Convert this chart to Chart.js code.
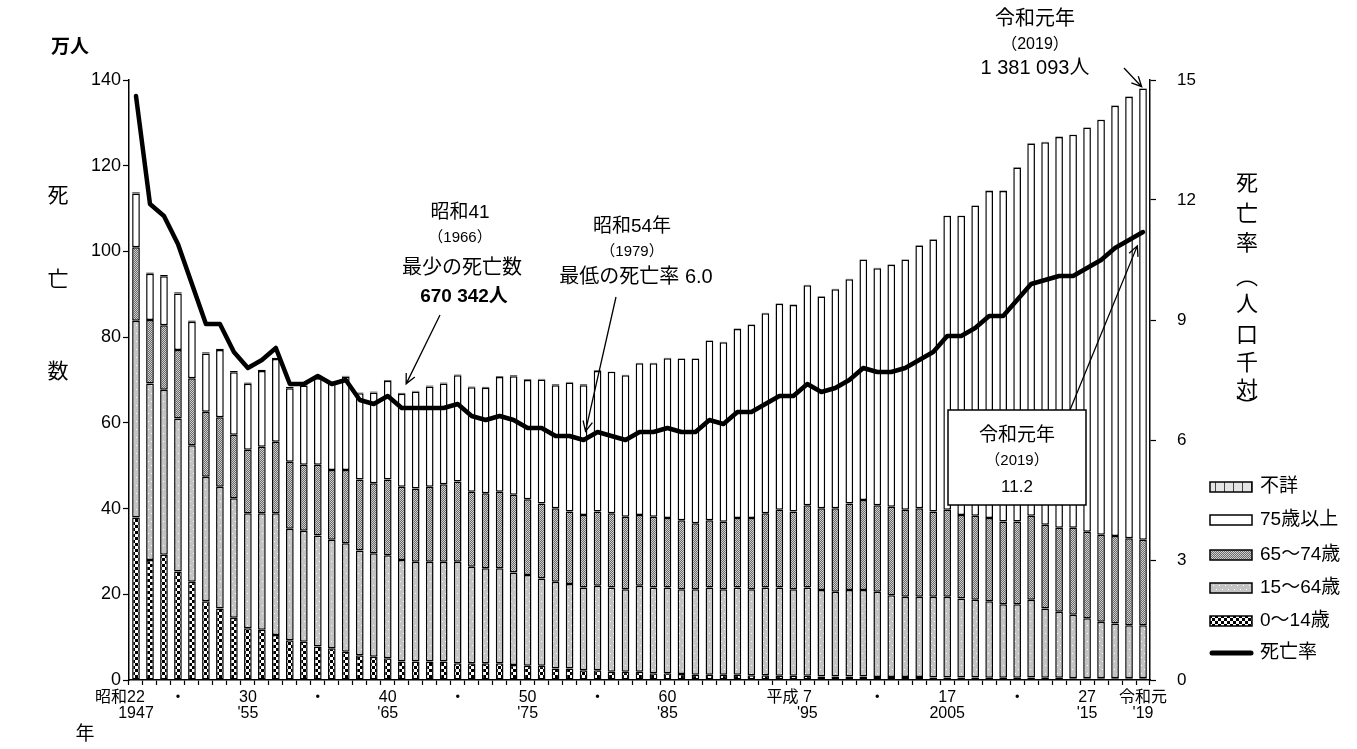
<!DOCTYPE html>
<html lang="ja">
<head>
<meta charset="utf-8">
<title>死亡数・死亡率の年次推移</title>
<script src="https://cdn.jsdelivr.net/npm/chart.js@4"></script>
<style>
  html, body { margin: 0; padding: 0; background: #fff; }
  #wrap { width: 1357px; height: 749px; position: relative; }
</style>
</head>
<body>
<div id="wrap"><canvas id="chart"></canvas></div>
<script>
// 年次（昭和22年〜令和元年）
const years = [
  1947, 1948, 1949, 1950, 1951, 1952, 1953, 1954, 1955, 1956,
  1957, 1958, 1959, 1960, 1961, 1962, 1963, 1964, 1965, 1966,
  1967, 1968, 1969, 1970, 1971, 1972, 1973, 1974, 1975, 1976,
  1977, 1978, 1979, 1980, 1981, 1982, 1983, 1984, 1985, 1986,
  1987, 1988, 1989, 1990, 1991, 1992, 1993, 1994, 1995, 1996,
  1997, 1998, 1999, 2000, 2001, 2002, 2003, 2004, 2005, 2006,
  2007, 2008, 2009, 2010, 2011, 2012, 2013, 2014, 2015, 2016,
  2017, 2018, 2019
];

// 死亡数（万人）年齢階級別
const age0to14 = [
  37.9, 28.0, 29.2, 25.3, 22.9, 18.4, 16.7, 14.5, 12.1, 11.7,
  10.5, 9.3, 8.9, 7.8, 7.4, 6.6, 5.8, 5.4, 5.1, 4.3,
  4.3, 4.3, 4.3, 3.9, 3.9, 3.9, 3.9, 3.5, 3.3, 3.3,
  2.7, 2.7, 2.3, 2.3, 1.9, 1.9, 1.9, 1.6, 1.6, 1.4,
  1.2, 1.2, 1.2, 1.2, 1.1, 1.1, 1.0, 1.0, 1.0, 0.8,
  0.8, 0.8, 0.8, 0.7, 0.7, 0.7, 0.7, 0.6, 0.6, 0.6,
  0.6, 0.5, 0.5, 0.5, 0.6, 0.5, 0.5, 0.4, 0.4, 0.4,
  0.4, 0.4, 0.4
];
const age15to64 = [
  45.9, 41.2, 38.5, 35.7, 31.9, 29.0, 28.4, 27.9, 26.8, 27.2,
  28.4, 26.0, 25.9, 25.9, 25.3, 25.3, 24.4, 24.2, 24.0, 23.7,
  23.3, 23.3, 23.3, 23.7, 22.5, 22.2, 22.2, 21.6, 21.2, 20.4,
  20.2, 19.7, 19.3, 19.7, 19.7, 19.3, 20.1, 20.0, 20.0, 19.8,
  20.0, 20.4, 20.0, 20.4, 20.1, 20.5, 20.6, 20.2, 20.6, 20.2,
  19.8, 20.2, 20.2, 19.9, 19.1, 18.7, 18.7, 18.8, 18.8, 18.4,
  18.1, 17.9, 17.2, 17.2, 18.1, 16.2, 15.4, 14.8, 14.0, 13.2,
  12.8, 12.4, 12.4
];
const age65to74 = [
  17.2, 14.8, 15.1, 16.0, 15.6, 15.2, 16.2, 14.8, 14.8, 15.5,
  16.7, 15.6, 15.4, 16.5, 16.3, 17.1, 16.6, 16.3, 17.7, 17.1,
  17.1, 17.5, 18.1, 18.7, 17.5, 17.5, 17.8, 18.1, 17.7, 17.5,
  17.2, 16.9, 16.9, 17.3, 17.3, 16.9, 16.5, 16.5, 16.2, 16.1,
  15.4, 15.7, 15.7, 16.2, 16.6, 17.3, 18.1, 18.1, 19.2, 19.1,
  19.5, 20.2, 21.0, 20.2, 20.6, 20.3, 20.7, 19.9, 20.3, 19.5,
  19.6, 19.4, 19.3, 19.3, 19.6, 19.5, 19.6, 20.3, 20.2, 20.3,
  20.4, 20.3, 19.9
];
const age75plus = [
  12.5, 10.8, 11.4, 13.2, 13.2, 13.6, 15.7, 14.6, 15.4, 17.7,
  19.3, 17.2, 18.5, 20.2, 20.4, 21.8, 20.1, 21.2, 23.0, 21.7,
  22.6, 23.4, 23.5, 24.8, 24.4, 24.6, 26.8, 27.7, 27.8, 28.9,
  28.7, 30.1, 30.3, 32.8, 33.0, 33.0, 35.4, 35.8, 37.3, 37.7,
  38.4, 41.9, 41.9, 44.1, 45.1, 46.7, 48.1, 48.2, 51.3, 49.4,
  51.1, 52.3, 56.1, 55.3, 56.5, 58.4, 61.3, 63.5, 68.6, 69.8,
  72.4, 76.3, 77.1, 82.6, 86.9, 89.3, 91.2, 91.7, 94.3, 96.8,
  100.4, 103.0, 105.3
];
const ageUnknown = [
  0.3, 0.3, 0.3, 0.3, 0.3, 0.3, 0.3, 0.3, 0.3, 0.3,
  0.3, 0.3, 0.3, 0.3, 0.2, 0.2, 0.2, 0.2, 0.2, 0.2,
  0.2, 0.2, 0.2, 0.2, 0.2, 0.2, 0.2, 0.2, 0.2, 0.2,
  0.2, 0.2, 0.2, 0.2, 0.1, 0.1, 0.1, 0.1, 0.1, 0.1,
  0.1, 0.1, 0.1, 0.1, 0.1, 0.1, 0.1, 0.1, 0.1, 0.1,
  0.1, 0.1, 0.1, 0.1, 0.1, 0.1, 0.1, 0.1, 0.1, 0.1,
  0.1, 0.1, 0.1, 0.1, 0.1, 0.1, 0.1, 0.1, 0.1, 0.1,
  0.1, 0.1, 0.1
];

// 死亡率（人口千対）
const deathRate = [
  14.6, 11.9, 11.6, 10.9, 9.9, 8.9, 8.9, 8.2, 7.8, 8.0,
  8.3, 7.4, 7.4, 7.6, 7.4, 7.5, 7.0, 6.9, 7.1, 6.8,
  6.8, 6.8, 6.8, 6.9, 6.6, 6.5, 6.6, 6.5, 6.3, 6.3,
  6.1, 6.1, 6.0, 6.2, 6.1, 6.0, 6.2, 6.2, 6.3, 6.2,
  6.2, 6.5, 6.4, 6.7, 6.7, 6.9, 7.1, 7.1, 7.4, 7.2,
  7.3, 7.5, 7.8, 7.7, 7.7, 7.8, 8.0, 8.2, 8.6, 8.6,
  8.8, 9.1, 9.1, 9.5, 9.9, 10.0, 10.1, 10.1, 10.3, 10.5,
  10.8, 11.0, 11.2
];

// 横軸の目盛ラベル（2段）
const tickYears = [1947, 1950, 1955, 1960, 1965, 1970, 1975, 1980, 1985, 1995, 2000, 2005, 2010, 2015, 2019];
const tickTop = ["昭和22　　", "・", "30", "・", "40", "・", "50", "・", "60", "平成 7　　 ", "・", "17", "・", "27", "令和元"];
const tickBottom = ["1947", "", "'55", "", "'65", "", "'75", "", "'85", "'95", "", "2005", "", "'15", "'19"];

const FONT = "'Liberation Sans', 'Noto Sans CJK JP', sans-serif";
Chart.defaults.font.family = FONT;
Chart.defaults.color = "#000";

// 網掛けパターン
function makePattern(w, h, draw) {
  const c = document.createElement("canvas");
  c.width = w;
  c.height = h;
  const g = c.getContext("2d");
  draw(g);
  return g.createPattern(c, "repeat");
}

const pat0to14 = makePattern(6, 6, (g) => {
  g.fillStyle = "#fff";
  g.fillRect(0, 0, 6, 6);
  g.fillStyle = "#000";
  g.fillRect(0, 0, 3, 3);
  g.fillRect(3, 3, 3, 3);
});
const pat15to64 = makePattern(6, 8, (g) => {
  g.fillStyle = "#c4c4c4";
  g.fillRect(0, 0, 6, 8);
  g.fillStyle = "#fff";
  g.fillRect(1, 1, 1, 1);
  g.fillRect(4, 5, 1, 1);
});
const pat65to74 = makePattern(2, 2, (g) => {
  g.fillStyle = "#6a6a6a";
  g.fillRect(0, 0, 2, 2);
  g.fillStyle = "#cfcfcf";
  g.fillRect(0, 0, 1, 1);
  g.fillRect(1, 1, 1, 1);
});
const patUnknown = makePattern(9, 4, (g) => {
  g.fillStyle = "#e4e4e4";
  g.fillRect(0, 0, 9, 4);
  g.fillStyle = "#444";
  g.fillRect(0, 0, 1, 4);
});

const barStyle = {
  borderColor: "#000",
  borderWidth: 1.5,
  borderSkipped: false,
  barPercentage: 0.55,
  categoryPercentage: 1,
  yAxisID: "y",
  order: 1,
};

const stackTop = (i) =>
  age0to14[i] + age15to64[i] + age65to74[i] + age75plus[i] + ageUnknown[i];

// 注記・凡例・軸タイトル
const decorations = {
  id: "decorations",
  afterDatasetsDraw(chart) {
    const { ctx, scales } = chart;
    const { x, y, y1 } = scales;

    const text = (s, px, py, size, bold = false, align = "center") => {
      ctx.font = `${bold ? "bold " : ""}${size}px ${FONT}`;
      ctx.fillStyle = "#000";
      ctx.textAlign = align;
      ctx.textBaseline = "middle";
      ctx.fillText(s, px, py);
    };

    const arrow = (x1, y1p, x2, y2, back, head = true) => {
      const dx = x2 - x1;
      const dy = y2 - y1p;
      const len = Math.hypot(dx, dy);
      const ex = x2 - (dx / len) * back;
      const ey = y2 - (dy / len) * back;
      const a = Math.atan2(dy, dx);
      ctx.save();
      ctx.strokeStyle = "#000";
      ctx.lineWidth = 1.3;
      ctx.beginPath();
      ctx.moveTo(x1, y1p);
      ctx.lineTo(ex, ey);
      if (head) {
        const h = 11;
        ctx.moveTo(ex - h * Math.cos(a - 0.45), ey - h * Math.sin(a - 0.45));
        ctx.lineTo(ex, ey);
        ctx.lineTo(ex - h * Math.cos(a + 0.45), ey - h * Math.sin(a + 0.45));
      }
      ctx.stroke();
      ctx.restore();
    };

    ctx.save();

    // 最少の死亡数
    const i66 = years.indexOf(1966);
    text("昭和41", 460, 213, 19);
    text("（1966）", 460, 238, 15);
    text("最少の死亡数", 462, 268, 20);
    text("670 342人", 464, 297, 19, true);
    arrow(440, 315, x.getPixelForValue(i66), y.getPixelForValue(stackTop(i66)), 10);

    // 最低の死亡率
    const i79 = years.indexOf(1979);
    text("昭和54年", 632, 227, 19);
    text("（1979）", 632, 252, 15);
    text("最低の死亡率 6.0", 636, 277, 20);
    arrow(616, 297, x.getPixelForValue(i79), y1.getPixelForValue(deathRate[i79]), 9);

    // 令和元年 死亡数
    const i19 = years.indexOf(2019);
    text("令和元年", 1035, 19, 20);
    text("（2019）", 1035, 45, 16);
    text("1 381 093人", 1035, 68, 20);
    arrow(1124, 68, x.getPixelForValue(i19), y.getPixelForValue(stackTop(i19)), 2);

    // 令和元年 死亡率の枠
    ctx.fillStyle = "#fff";
    ctx.fillRect(948, 410, 138, 95);
    ctx.strokeStyle = "#000";
    ctx.lineWidth = 1.5;
    ctx.strokeRect(948, 410, 138, 95);
    text("令和元年", 1017, 436, 19);
    text("（2019）", 1017, 461, 15);
    text("11.2", 1017, 487, 17);
    arrow(1070, 410, x.getPixelForValue(i19), y1.getPixelForValue(deathRate[i19]), 15);

    // 軸タイトル
    text("万人", 70, 48, 19, true);
    text("死", 58, 196, 21);
    text("亡", 58, 280, 21);
    text("数", 58, 372, 21);
    text("年", 85, 735, 19);
    const rightTitle = ["死", "亡", "率", "︵", "人", "口", "千", "対", "︶"];
    const rightY = [184, 215, 244, 278, 305, 336, 364, 391, 408];
    rightTitle.forEach((ch, k) => text(ch, 1247, rightY[k], 22));

    // 凡例
    const legendRows = [4, 3, 2, 1, 0];
    const legendY = [487, 520, 555, 588, 621];
    legendRows.forEach((di, k) => {
      const ds = chart.data.datasets[di];
      ctx.fillStyle = ds.backgroundColor;
      ctx.fillRect(1210, legendY[k] - 5, 42, 10);
      ctx.strokeStyle = "#000";
      ctx.lineWidth = 1.5;
      ctx.strokeRect(1210, legendY[k] - 5, 42, 10);
      text(ds.label, 1260, legendY[k], 19, false, "left");
    });
    ctx.strokeStyle = "#000";
    ctx.lineWidth = 5;
    ctx.lineCap = "round";
    ctx.beginPath();
    ctx.moveTo(1212, 653);
    ctx.lineTo(1251, 653);
    ctx.stroke();
    text(chart.data.datasets[5].label, 1260, 653, 19, false, "left");

    ctx.restore();
  },
};

new Chart(document.getElementById("chart"), {
  type: "bar",
  data: {
    labels: years,
    datasets: [
      { ...barStyle, label: "0～14歳", data: age0to14, backgroundColor: pat0to14 },
      { ...barStyle, label: "15～64歳", data: age15to64, backgroundColor: pat15to64 },
      { ...barStyle, label: "65～74歳", data: age65to74, backgroundColor: pat65to74 },
      { ...barStyle, label: "75歳以上", data: age75plus, backgroundColor: "#fff" },
      { ...barStyle, label: "不詳", data: ageUnknown, backgroundColor: patUnknown },
      {
        type: "line",
        label: "死亡率",
        data: deathRate,
        yAxisID: "y1",
        borderColor: "#000",
        borderWidth: 4.5,
        borderJoinStyle: "round",
        borderCapStyle: "round",
        pointRadius: 0,
        tension: 0,
        order: 0,
      },
    ],
  },
  options: {
    responsive: true,
    maintainAspectRatio: false,
    animation: false,
    layout: { padding: { top: 80, left: 0, right: 0, bottom: 0 } },
    plugins: {
      legend: { display: false },
      tooltip: { enabled: false },
    },
    scales: {
      x: {
        stacked: true,
        offset: true,
        afterFit: (s) => { s.height = 69; },
        grid: {
          offset: true,
          drawOnChartArea: false,
          drawTicks: true,
          tickLength: 5,
          tickWidth: 1.2,
          color: "#000",
        },
        border: { color: "#000", width: 1.5 },
        ticks: {
          autoSkip: false,
          maxRotation: 0,
          minRotation: 0,
          padding: 5,
          font: { size: 16, lineHeight: 1 },
          callback: (v, i) => {
            const k = tickYears.indexOf(years[i]);
            return k < 0 ? "" : [tickTop[k], tickBottom[k]];
          },
        },
      },
      y: {
        stacked: true,
        position: "left",
        min: 0,
        max: 140,
        afterFit: (s) => { s.width = 129; },
        grid: { drawOnChartArea: false, tickLength: 6, tickWidth: 1.2, color: "#000" },
        border: { color: "#000", width: 1.5 },
        ticks: { stepSize: 20, padding: 2, font: { size: 18 } },
      },
      y1: {
        position: "right",
        min: 0,
        max: 15,
        afterFit: (s) => { s.width = 207; },
        grid: { drawOnChartArea: false, tickLength: 6, tickWidth: 1.2, color: "#000" },
        border: { color: "#000", width: 1.5 },
        ticks: { stepSize: 3, padding: 21, font: { size: 17 } },
      },
    },
  },
  plugins: [decorations],
});
</script>
</body>
</html>
